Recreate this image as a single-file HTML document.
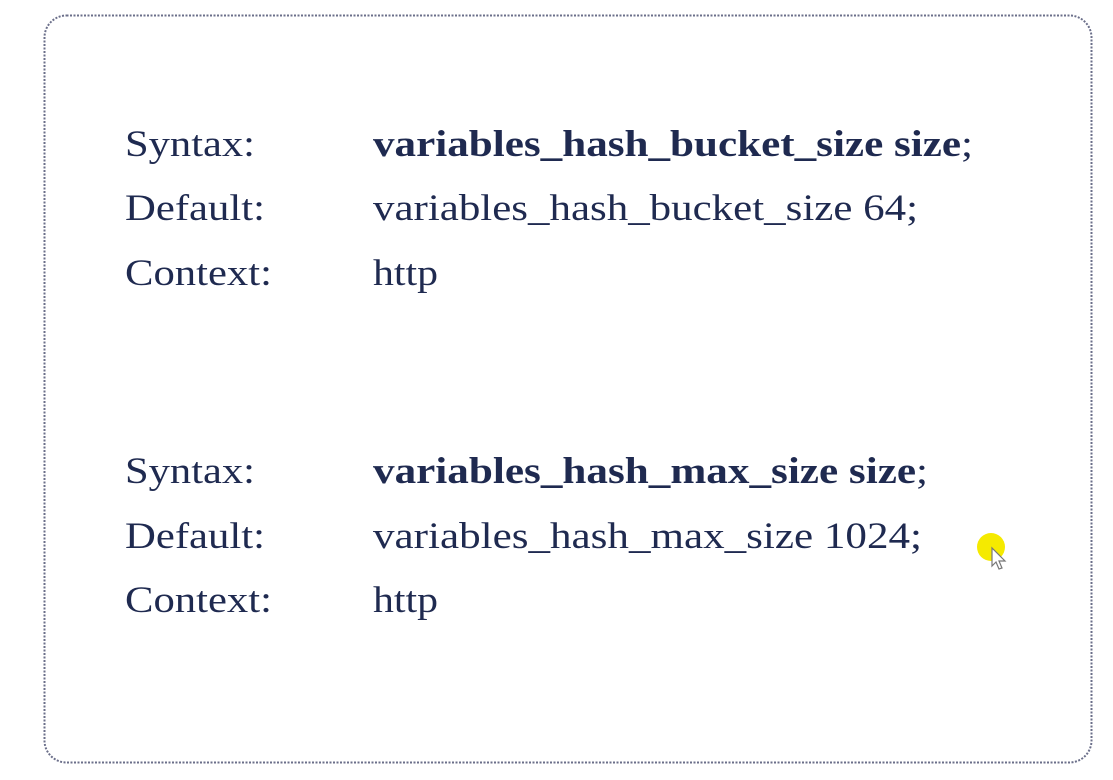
<!DOCTYPE html>
<html><head><style>
html,body{margin:0;padding:0;background:#fff;width:1113px;height:780px;overflow:hidden}
</style></head><body>
<svg width="1113" height="780" xmlns="http://www.w3.org/2000/svg">
<rect x="44.5" y="15.5" width="1047" height="747" rx="22" fill="#fff" stroke="#6b6f8a" stroke-width="2" stroke-dasharray="2,1.5"/>
<g font-family="Liberation Serif, serif" font-size="37" fill="#1f2a50">
<text x="125" y="156" textLength="130" lengthAdjust="spacingAndGlyphs">Syntax:</text>
<text x="125" y="220" textLength="140" lengthAdjust="spacingAndGlyphs">Default:</text>
<text x="125" y="285" textLength="147" lengthAdjust="spacingAndGlyphs">Context:</text>
<text x="373" y="156" textLength="600" lengthAdjust="spacingAndGlyphs"><tspan font-weight="bold">variables_hash_bucket_size size</tspan>;</text>
<text x="373" y="220" textLength="545" lengthAdjust="spacingAndGlyphs">variables_hash_bucket_size 64;</text>
<text x="373" y="285" textLength="65" lengthAdjust="spacingAndGlyphs">http</text>
<text x="125" y="483" textLength="130" lengthAdjust="spacingAndGlyphs">Syntax:</text>
<text x="125" y="548" textLength="140" lengthAdjust="spacingAndGlyphs">Default:</text>
<text x="125" y="612" textLength="147" lengthAdjust="spacingAndGlyphs">Context:</text>
<text x="373" y="483" textLength="555" lengthAdjust="spacingAndGlyphs"><tspan font-weight="bold">variables_hash_max_size size</tspan>;</text>
<text x="373" y="548" textLength="549" lengthAdjust="spacingAndGlyphs">variables_hash_max_size 1024;</text>
<text x="373" y="612" textLength="65" lengthAdjust="spacingAndGlyphs">http</text>
</g>
<circle cx="991" cy="547" r="14" fill="#f5ea00"/>
<path d="M992 548 L992 566 L996 562 L999 569 L1002 568 L999 561 L1005 561 Z" fill="#fff" stroke="#777" stroke-width="1.2"/>
</svg>
</body></html>
